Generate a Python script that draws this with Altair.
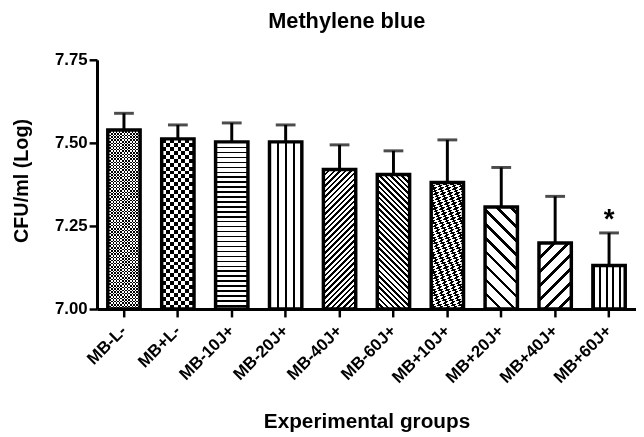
import math
import altair as alt
import pandas as pd

# ---------------- data ----------------
groups = ["MB-L-", "MB+L-", "MB-10J+", "MB-20J+", "MB-40J+",
          "MB-60J+", "MB+10J+", "MB+20J+", "MB+40J+", "MB+60J+"]
means = [7.539, 7.512, 7.503, 7.503, 7.420, 7.405, 7.381, 7.307, 7.199, 7.131]
sds = [0.050, 0.042, 0.057, 0.051, 0.074, 0.071, 0.128, 0.119, 0.140, 0.098]
signif = ["", "", "", "", "", "", "", "", "", "*"]
y_ticks = [7.00, 7.25, 7.50, 7.75]

df = pd.DataFrame({"group": groups, "mean": means, "sd": sds, "sig": signif})

# ---------------- geometry / style ----------------
FONT = "Liberation Sans"
Y_MIN, Y_MAX = 7.0, 7.75
PLOT_W, PLOT_H = 545, 252
P_IN, P_OUT = 0.4, 0.2
STEP = PLOT_W / (len(groups) - P_IN + 2 * P_OUT)
BAR_W = STEP * (1 - P_IN)


def bar_h(v):
    return (v - Y_MIN) / (Y_MAX - Y_MIN) * PLOT_H


def stripe_stops(length, period, duty, phase=0.0):
    stops = []
    pos = -phase * period
    while pos < length:
        for s, e, col in ((pos, pos + duty * period, "#000000"),
                          (pos + duty * period, pos + period, "#ffffff")):
            s2, e2 = max(s, 0.0), min(e, length)
            if e2 > s2:
                stops.append({"offset": round(s2 / length, 5), "color": col})
                stops.append({"offset": round(e2 / length, 5), "color": col})
        pos += period
    return stops


def grad(kind, h, period, duty, phase=0.0):
    w = BAR_W
    if kind == "h":
        coords = dict(x1=0, y1=0, x2=0, y2=1)
        length = h
    elif kind == "v":
        coords = dict(x1=0, y1=0, x2=1, y2=0)
        length = w
    else:
        a = w * (w + h) / (w * w + h * h)
        b = h * (w + h) / (w * w + h * h)
        length = (w + h) / math.sqrt(2)
        if kind == "/":
            coords = dict(x1=0, y1=0, x2=round(a, 5), y2=round(b, 5))
        else:
            coords = dict(x1=0, y1=1, x2=round(a, 5), y2=round(1 - b, 5))
    g = {"gradient": "linear"}
    g.update(coords)
    g["stops"] = stripe_stops(length, period, duty, phase)
    return g


# pattern of each bar: base stripes, optional XOR stripes (difference blend)
patterns = [
    (("h", 3.2, 0.5), ("v", 3.2, 0.5)),   # fine checker
    (("h", 8.0, 0.5), ("v", 8.0, 0.5)),   # coarse checker
    (("h", 5.0, 0.3), None),              # horizontal lines
    (("v", 8.0, 0.2), None),              # vertical lines
    (("/", 4.0, 0.45), None),             # dense /
    (("\\", 4.0, 0.45), None),            # dense \
    (("/", 5.0, 0.5), ("h", 5.0, 0.5)),   # woven
    (("\\", 10.0, 0.25), None),           # wide \
    (("/", 10.0, 0.25), None),            # wide /
    (("v", 6.5, 0.3), None),              # vertical lines
]

X = alt.X("group:N", sort=groups,
          scale=alt.Scale(paddingInner=P_IN, paddingOuter=P_OUT),
          axis=alt.Axis(title="Experimental groups", labelAngle=-45,
                        labelAlign="right", labelBaseline="middle",
                        labelFont=FONT, labelFontSize=17, labelFontWeight="bold",
                        labelColor="black", labelPadding=11,
                        titleFont=FONT, titleFontSize=21, titleFontWeight="bold",
                        titleColor="black",
                        titleX=PLOT_W / 2, titleY=120,
                        titleBaseline="alphabetic", titleAlign="center"))
Y = alt.Y("mean:Q",
          scale=alt.Scale(domain=[Y_MIN, Y_MAX], nice=False, zero=False),
          axis=alt.Axis(title="CFU/ml (Log)", values=y_ticks, format=".2f",
                        labelFont=FONT, labelFontSize=17, labelFontWeight="bold",
                        labelColor="black", labelPadding=2,
                        titleFont=FONT, titleFontSize=20, titleFontWeight="bold",
                        titleColor="black",
                        titleX=-76, titleY=PLOT_H / 2 - 4, titleBaseline="middle",
                        titleAlign="center"))

base = alt.Chart(df).transform_calculate(upper="datum.mean + datum.sd")

layers = []
for g, m, (p1, p2) in zip(groups, means, patterns):
    h = bar_h(m)
    layers.append(
        base.transform_filter(alt.datum.group == g)
        .mark_bar(fill=grad(p1[0], h, p1[1], p1[2]), strokeWidth=0)
        .encode(x=X, y=Y, y2=alt.datum(Y_MIN))
    )
    if p2 is not None:
        layers.append(
            base.transform_filter(alt.datum.group == g)
            .mark_bar(fill=grad(p2[0], h, p2[1], p2[2]), strokeWidth=0,
                      blend="difference")
            .encode(x=X, y=Y, y2=alt.datum(Y_MIN))
        )

err = base.mark_rule(strokeWidth=3, color="black").encode(
    x=X, y=Y, y2="upper:Q")
cap = base.mark_tick(thickness=3, size=20, color="black").encode(
    x=X, y=alt.Y("upper:Q"))
outline = base.mark_bar(fillOpacity=0, stroke="black", strokeWidth=3.5).encode(
    x=X, y=Y, y2=alt.datum(Y_MIN))
star = base.mark_text(fontSize=28, fontWeight="bold", font=FONT,
                      baseline="alphabetic", dy=-5).encode(
    x=X, y=alt.Y("upper:Q"), text="sig:N")

chart = alt.layer(*layers, err, cap, outline, star).properties(
    width=PLOT_W, height=PLOT_H,
    title=alt.TitleParams("Methylene blue", font=FONT, fontSize=22,
                          fontWeight="bold", anchor="middle", dx=-20,
                          offset=18, color="black"),
    autosize=alt.AutoSizeParams(type="none"),
    padding={"left": 90, "top": 50, "right": 0, "bottom": 125},
).configure_view(stroke=None).configure_axis(
    domainColor="black", domainWidth=3, tickColor="black", tickWidth=2.5,
    tickSize=8, grid=False
)

chart.save("out.html", embed_options={"renderer": "svg", "actions": False})
